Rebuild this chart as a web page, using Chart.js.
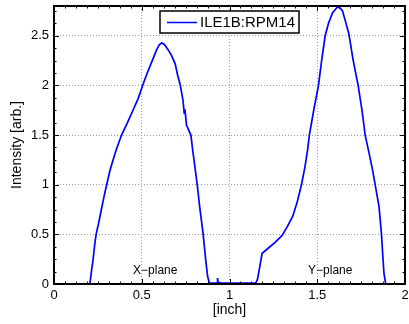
<!DOCTYPE html>
<html>
<head>
<meta charset="utf-8">
<script src="https://cdn.jsdelivr.net/npm/chart.js@4/dist/chart.umd.min.js"></script>
<style>
html,body{margin:0;padding:0;background:#fff;}
canvas{display:block;}
</style>
</head>
<body>
<canvas id="c" width="409" height="324"></canvas>
<script>
// ---- data ----
const seriesName = 'ILE1B:RPM14';
const xPos = [0, 0.2, 0.205, 0.215, 0.223, 0.232, 0.24, 0.255, 0.27, 0.285, 0.30, 0.32, 0.34, 0.356, 0.385,
  0.42, 0.45, 0.48, 0.505, 0.53, 0.56, 0.585, 0.60, 0.614, 0.63, 0.65, 0.67, 0.69, 0.705, 0.72, 0.735,
  0.742, 0.746, 0.755, 0.78, 0.79, 0.80, 0.816, 0.83, 0.85, 0.864, 0.875, 0.885, 0.93, 0.932, 0.935,
  1.15, 1.16, 1.175, 1.186, 1.2, 1.227, 1.26, 1.3, 1.33, 1.36, 1.385, 1.41, 1.43, 1.445, 1.455, 1.48,
  1.507, 1.525, 1.545, 1.565, 1.587, 1.605, 1.616, 1.63, 1.644, 1.66, 1.68, 1.705, 1.733, 1.755, 1.773,
  1.795, 1.815, 1.83, 1.852, 1.866, 1.873, 1.88, 1.89, 2.0];
const intensity = [0, 0, 0.01, 0.15, 0.25, 0.4, 0.5, 0.62, 0.75, 0.88, 1.0, 1.15, 1.27, 1.36, 1.5,
  1.63, 1.75, 1.87, 2.0, 2.12, 2.25, 2.36, 2.41, 2.43, 2.41, 2.36, 2.3, 2.22, 2.1, 2.0, 1.85,
  1.72, 1.76, 1.6, 1.5, 1.35, 1.22, 1.0, 0.78, 0.5, 0.25, 0.08, 0.01, 0.01, 0.06, 0.01,
  0.01, 0.05, 0.2, 0.31, 0.33, 0.37, 0.42, 0.49, 0.58, 0.68, 0.82, 1.0, 1.18, 1.35, 1.5, 1.75,
  2.0, 2.25, 2.5, 2.63, 2.73, 2.77, 2.79, 2.78, 2.75, 2.65, 2.52, 2.25, 2.0, 1.75, 1.5,
  1.32, 1.15, 1.0, 0.78, 0.5, 0.3, 0.11, 0.0, 0];
const xTicks = [0, 0.5, 1, 1.5, 2];
const yTicks = [0, 0.5, 1, 1.5, 2, 2.5];
const xTitle = '[inch]';
const yTitle = 'Intensity [arb.]';
const annoText = ['X\u2212plane', 'Y\u2212plane'];
const annoX = [0.577, 1.574];
const annoY = [0.1, 0.1];

const FONT = '"Liberation Sans", Arial, Helvetica, sans-serif';

const points = xPos.map((x, i) => ({x: x, y: intensity[i]}));

const decor = {
  id: 'decor',
  afterDatasetsDraw(chart) {
    const ctx = chart.ctx, a = chart.chartArea;
    const xs = chart.scales.x, ys = chart.scales.y;
    ctx.save();
    // annotations
    ctx.fillStyle = '#000';
    ctx.font = '12px ' + FONT;
    ctx.textAlign = 'center';
    ctx.textBaseline = 'alphabetic';
    annoText.forEach((t, i) => {
      ctx.fillText(t, xs.getPixelForValue(annoX[i]), ys.getPixelForValue(annoY[i]));
    });
    // legend box
    const cx = (a.left + a.right) / 2;
    const w = 139, h = 22;
    const lx = Math.round(cx - w / 2), ly = a.top + 5;
    ctx.fillStyle = '#fff';
    ctx.fillRect(lx, ly, w, h);
    ctx.strokeStyle = '#000';
    ctx.lineWidth = 1.5;
    ctx.strokeRect(lx, ly, w, h);
    ctx.strokeStyle = '#0000ff';
    ctx.lineWidth = 1.5;
    ctx.beginPath();
    ctx.moveTo(lx + 7, ly + 11.5);
    ctx.lineTo(lx + 37, ly + 11.5);
    ctx.stroke();
    ctx.fillStyle = '#000';
    ctx.font = '15px ' + FONT;
    ctx.textAlign = 'left';
    ctx.textBaseline = 'middle';
    ctx.fillText(seriesName, lx + 40, ly + 12);
    ctx.restore();
  },
  afterDraw(chart) {
    const ctx = chart.ctx, a = chart.chartArea;
    const xs = chart.scales.x, ys = chart.scales.y;
    ctx.save();
    ctx.strokeStyle = '#000';
    // minor & major ticks (inside)
    ctx.lineWidth = 1;
    ctx.beginPath();
    for (let v = 0; v <= 2.0001; v += 0.0625) {
      const px = Math.round(xs.getPixelForValue(v)) + 0.5;
      const major = Math.abs(v / 0.5 - Math.round(v / 0.5)) < 1e-6;
      const L = major ? 5 : 2.5;
      ctx.moveTo(px, a.bottom); ctx.lineTo(px, a.bottom - L);
      ctx.moveTo(px, a.top); ctx.lineTo(px, a.top + L);
    }
    for (let v = 0; v <= 2.8001; v += 0.125) {
      const py = Math.round(ys.getPixelForValue(v)) + 0.5;
      const major = Math.abs(v / 0.5 - Math.round(v / 0.5)) < 1e-6;
      const L = major ? 5 : 2.5;
      ctx.moveTo(a.left, py); ctx.lineTo(a.left + L, py);
      ctx.moveTo(a.right, py); ctx.lineTo(a.right - L, py);
    }
    ctx.stroke();
    // frame
    ctx.lineWidth = 2;
    ctx.strokeRect(Math.round(a.left), Math.round(a.top), Math.round(a.right - a.left), Math.round(a.bottom - a.top));
    ctx.restore();
  }
};

new Chart(document.getElementById('c'), {
  type: 'scatter',
  data: {
    datasets: [{
      label: seriesName,
      data: points,
      showLine: true,
      borderColor: '#0000ff',
      backgroundColor: '#0000ff',
      borderWidth: 1.7,
      pointRadius: 0,
      tension: 0
    }]
  },
  options: {
    responsive: false,
    animation: false,
    layout: {padding: {top: 6, right: 4, left: 0, bottom: 0}},
    plugins: {legend: {display: false}, tooltip: {enabled: false}},
    scales: {
      x: {
        type: 'linear', min: 0, max: 2,
        afterBuildTicks(s) { s.ticks = xTicks.map(v => ({value: v})); },
        afterFit(s) { s.height = 40; s.paddingLeft = 0; s.paddingRight = 0; },
        ticks: {color: '#000', font: {family: FONT, size: 13}, padding: 4, maxRotation: 0,
          callback: v => String(v)},
        grid: {color: '#9a9a9a', lineWidth: 1, drawTicks: false},
        border: {display: false, dash: [1, 2]},
        title: {display: true, text: xTitle, color: '#000', font: {family: FONT, size: 14}, padding: {top: 0, bottom: 5}}
      },
      y: {
        type: 'linear', min: 0, max: 2.8,
        afterBuildTicks(s) { s.ticks = yTicks.map(v => ({value: v})); },
        afterFit(s) { s.width = 54; s.paddingTop = 0; s.paddingBottom = 0; },
        ticks: {color: '#000', font: {family: FONT, size: 13}, padding: 5,
          callback: v => String(v)},
        grid: {color: '#9a9a9a', lineWidth: 1, drawTicks: false},
        border: {display: false, dash: [1, 2]},
        title: {display: true, text: yTitle, color: '#000', font: {family: FONT, size: 14}, padding: {top: 9, bottom: 0}}
      }
    }
  },
  plugins: [decor]
});
</script>
</body>
</html>
